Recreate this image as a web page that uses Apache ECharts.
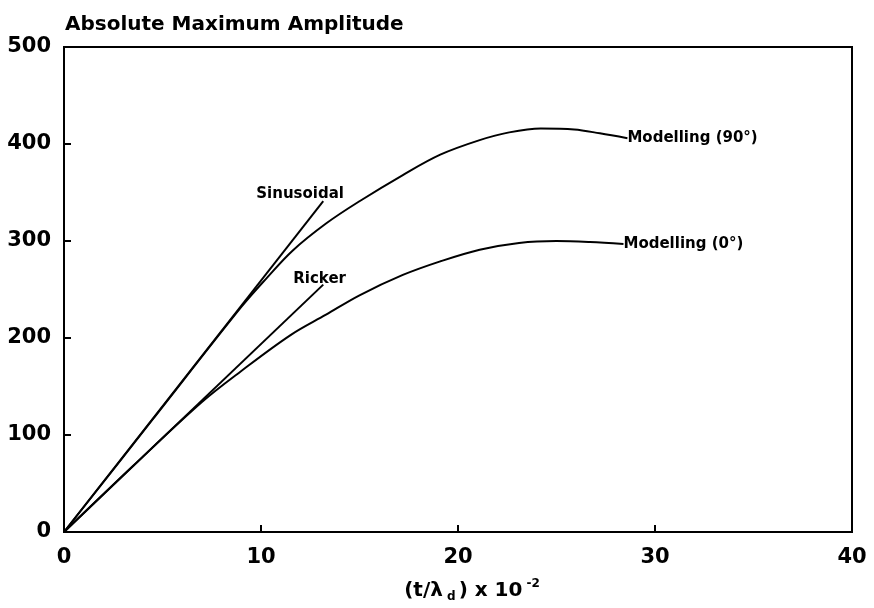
<!DOCTYPE html>
<html><head><meta charset="utf-8">
<script src="https://cdn.jsdelivr.net/npm/echarts@6/dist/echarts.min.js"></script>
<style>html,body{margin:0;padding:0;background:#fff}#c{width:874px;height:608px}</style>
</head><body><div id="c"></div>
<script>
const xTicks = [0, 10, 20, 30, 40];
const yTicks = [0, 100, 200, 300, 400, 500];
const sinX = [0, 13.16];
const sinY = [0, 341];
const rickX = [0, 13.16];
const rickY = [0, 255];
const m90X = [0, 4.5, 9, 10.3, 11.6, 13.3, 15, 17.2, 19.1, 21.1, 22.6, 24.2, 25.9, 27.2, 28.6];
const m90Y = [0, 116, 232, 262, 290, 318, 341, 368, 389, 404, 412, 416, 415, 411, 406];
const m0X = [0, 3.5, 7.0, 9, 11.5, 13.3, 15, 17.2, 19.1, 21.1, 23.1, 25, 26.7, 28.4];
const m0Y = [0, 68, 134, 166, 203, 224, 244, 265, 279, 291, 298, 300, 299, 297];
const names = ['Sinusoidal', 'Ricker', 'Modelling (90°)', 'Modelling (0°)'];

const FONT = 'DejaVu Sans';
function pts(xs, ys) { return xs.map((x, i) => [x, ys[i]]); }
const lblBase = { show: true, formatter: '{a}', color: '#000', fontFamily: FONT, fontWeight: 'bold', fontSize: 15 };
const lineStyle = { color: '#000', width: 2 };
function ser(i, xs, ys, endLab, smooth) {
  return { name: names[i], type: 'line', symbol: 'none', smooth: smooth ? 0.35 : false,
    lineStyle, data: pts(xs, ys), endLabel: Object.assign({}, lblBase, endLab) };
}
const chart = echarts.init(document.getElementById('c'));
chart.setOption({
  animation: false,
  backgroundColor: '#fff',
  title: { text: 'Absolute Maximum Amplitude', left: 60, top: 10,
    textStyle: { fontFamily: FONT, fontWeight: 'bold', fontSize: 20, color: '#000' } },
  grid: { left: 64, right: 22, top: 47, bottom: 75, show: true, borderColor: '#000', borderWidth: 2 },
  xAxis: {
    type: 'value', min: xTicks[0], max: xTicks[xTicks.length - 1], interval: 10,
    axisLine: { lineStyle: { color: '#000', width: 2 } },
    axisTick: { inside: true, length: 7, lineStyle: { color: '#000', width: 2 } },
    splitLine: { show: false },
    axisLabel: { color: '#000', fontFamily: FONT, fontWeight: 'bold', fontSize: 21, margin: 15 },
    name: '{a|(t/λ}{s| d}{a|) x 10}{p|-2}', nameLocation: 'middle', nameGap: 46,
    nameTextStyle: { padding: [0, 0, 0, 28], rich: {
      a: { fontFamily: FONT, fontWeight: 'bold', fontSize: 20, color: '#000' },
      s: { fontFamily: FONT, fontWeight: 'bold', fontSize: 12, color: '#000', verticalAlign: 'bottom', padding: [13, 3, 0, 0] },
      p: { fontFamily: FONT, fontWeight: 'bold', fontSize: 12, color: '#000', verticalAlign: 'top', padding: [0, 0, 11, 4] }
    } }
  },
  yAxis: {
    type: 'value', min: yTicks[0], max: yTicks[yTicks.length - 1], interval: 100,
    axisLine: { show: true, lineStyle: { color: '#000', width: 2 } },
    axisTick: { show: true, inside: true, length: 7, lineStyle: { color: '#000', width: 2 } },
    splitLine: { show: false },
    axisLabel: { color: '#000', fontFamily: FONT, fontWeight: 'bold', fontSize: 21, margin: 13 }
  },
  series: [
    ser(0, sinX, sinY, { distance: 0, offset: [-67, -7] }, false),
    ser(1, rickX, rickY, { distance: 0, offset: [-30, -6] }, false),
    ser(2, m90X, m90Y, { distance: 0, offset: [0, 0] }, true),
    ser(3, m0X, m0Y, { distance: 0, offset: [0, 0] }, true)
  ]
});
</script></body></html>
